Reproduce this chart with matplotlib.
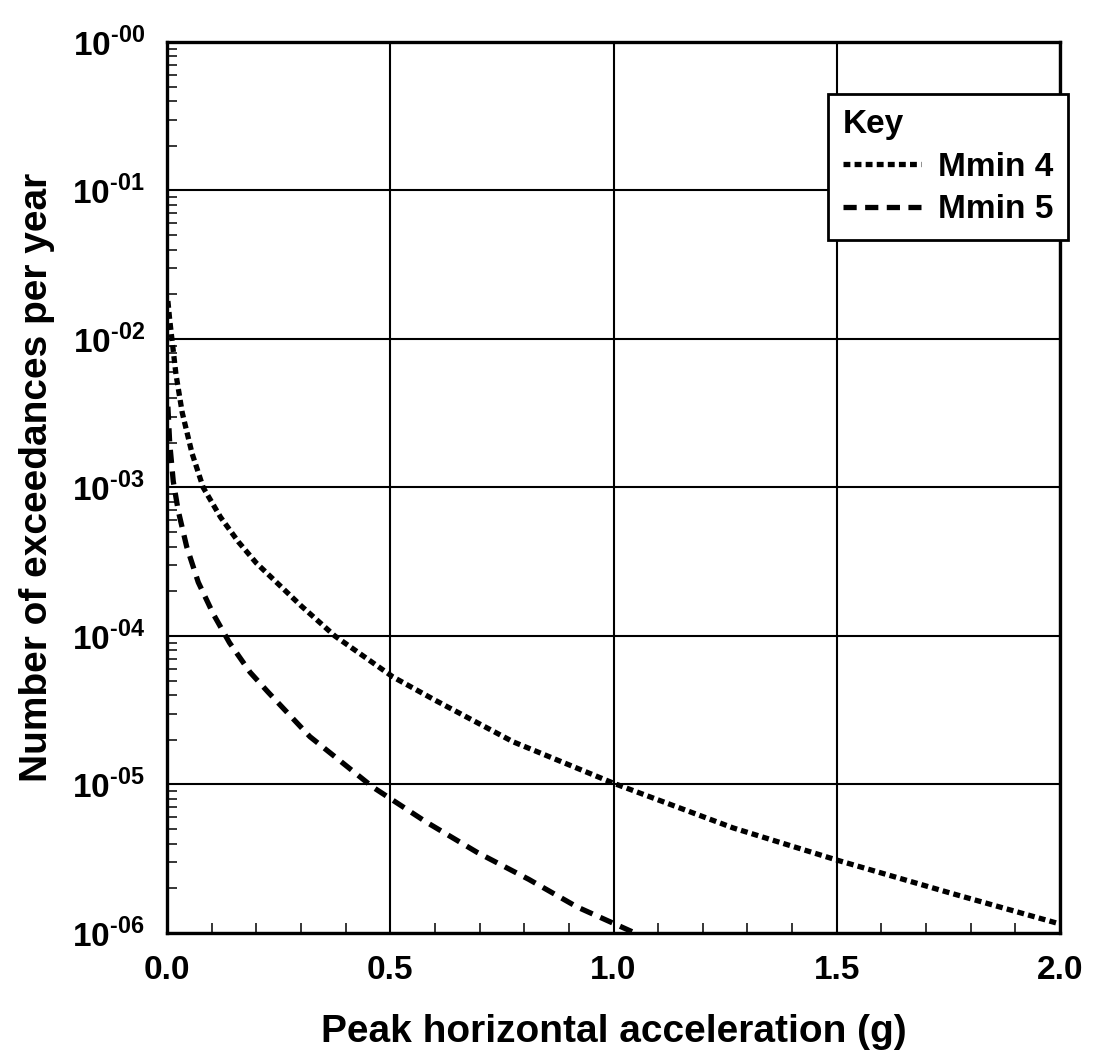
import math
import matplotlib
matplotlib.use("Agg")
import matplotlib.pyplot as plt
from matplotlib.ticker import FixedLocator, LogLocator, FuncFormatter, NullFormatter, MultipleLocator

plt.rcParams['font.family'] = 'Liberation Sans'
plt.rcParams['font.weight'] = 'bold'
plt.rcParams['mathtext.fontset'] = 'custom'
plt.rcParams['mathtext.rm'] = 'Liberation Sans:bold'
plt.rcParams['mathtext.bf'] = 'Liberation Sans:bold'

# hazard curves, annual exceedance rate vs PGA
pga_m4 = [0.002, 0.006, 0.011, 0.02, 0.034, 0.056, 0.081, 0.12, 0.16, 0.20,
          0.30, 0.376, 0.506, 0.60, 0.775, 1.0, 1.268, 1.5, 1.754, 2.0]
rate_m4 = [1.8e-2, 1.35e-2, 1.0e-2, 5.8e-3, 3.2e-3, 1.7e-3, 1.0e-3, 6.3e-4, 4.3e-4, 3.1e-4,
           1.6e-4, 1.0e-4, 5.3e-5, 3.7e-5, 1.94e-5, 1.02e-5, 5.1e-6, 3.1e-6, 1.86e-6, 1.15e-6]

pga_m5 = [0.002, 0.006, 0.014, 0.025, 0.044, 0.07, 0.104, 0.14, 0.186, 0.226,
          0.32, 0.461, 0.58, 0.694, 0.81, 0.918, 1.048]
rate_m5 = [3.5e-3, 2.0e-3, 1.1e-3, 7.0e-4, 4.0e-4, 2.3e-4, 1.4e-4, 9.0e-5, 5.7e-5, 4.2e-5,
           2.1e-5, 9.6e-6, 5.6e-6, 3.5e-6, 2.3e-6, 1.5e-6, 1.0e-6]

x_ticks = [0.0, 0.5, 1.0, 1.5, 2.0]
y_decades = [1e-6, 1e-5, 1e-4, 1e-3, 1e-2, 1e-1, 1e0]

fig = plt.figure(figsize=(10.98, 10.54), dpi=100)
ax = fig.add_axes([0.1521, 0.1148, 0.8133, 0.8454])

ax.plot(pga_m4, rate_m4, color='black', lw=3.8, linestyle=(0, (1.3, 0.8)), label='Mmin 4')
ax.plot(pga_m5, rate_m5, color='black', lw=3.8, linestyle=(0, (2.5, 1.6)), label='Mmin 5')

ax.set_yscale('log')
ax.set_xlim(0, 2.0)
ax.set_ylim(1e-6, 1e0)

ax.xaxis.set_major_locator(FixedLocator(x_ticks))
ax.xaxis.set_minor_locator(MultipleLocator(0.1))
ax.set_xticklabels([f"{v:.1f}" for v in x_ticks])
ax.yaxis.set_major_locator(FixedLocator(y_decades))
ax.yaxis.set_minor_locator(LogLocator(base=10, subs=range(2, 10)))
ax.yaxis.set_minor_formatter(NullFormatter())


def decade_label(v, pos):
    e = int(round(math.log10(v)))
    return r'$10^{\text{-}%02d}$' % abs(e)


ax.yaxis.set_major_formatter(FuncFormatter(decade_label))

ax.tick_params(which='both', direction='in', top=False, right=False, colors='black')
ax.tick_params(which='major', length=13, width=1.2, labelsize=24, pad=16)
ax.tick_params(which='minor', length=7, width=1.1)
ax.tick_params(axis='y', which='major', labelsize=24, pad=16)

ax.grid(which='major', color='black', lw=1.5)
for s in ax.spines.values():
    s.set_linewidth(2.4)

ax.set_xlabel('Peak horizontal acceleration (g)', fontsize=28, fontweight='bold', labelpad=20)
ax.set_ylabel('Number of exceedances per year', fontsize=28, fontweight='bold')
ax.yaxis.set_label_coords(-0.125, 0.511)

leg = ax.legend(loc='upper left', bbox_to_anchor=(0.740, 0.9416), title='Key',
                fontsize=24, title_fontsize=24, frameon=True, fancybox=False,
                handlelength=2.35, handletextpad=0.5, borderpad=0.45, labelspacing=0.35,
                borderaxespad=0)
leg._legend_box.align = 'left'
leg.get_title().set_fontweight('bold')
for t in leg.get_texts():
    t.set_fontweight('bold')
leg.get_frame().set_edgecolor('black')
leg.get_frame().set_linewidth(2)
leg.get_frame().set_alpha(1)

fig.savefig('out.png', dpi=100)
